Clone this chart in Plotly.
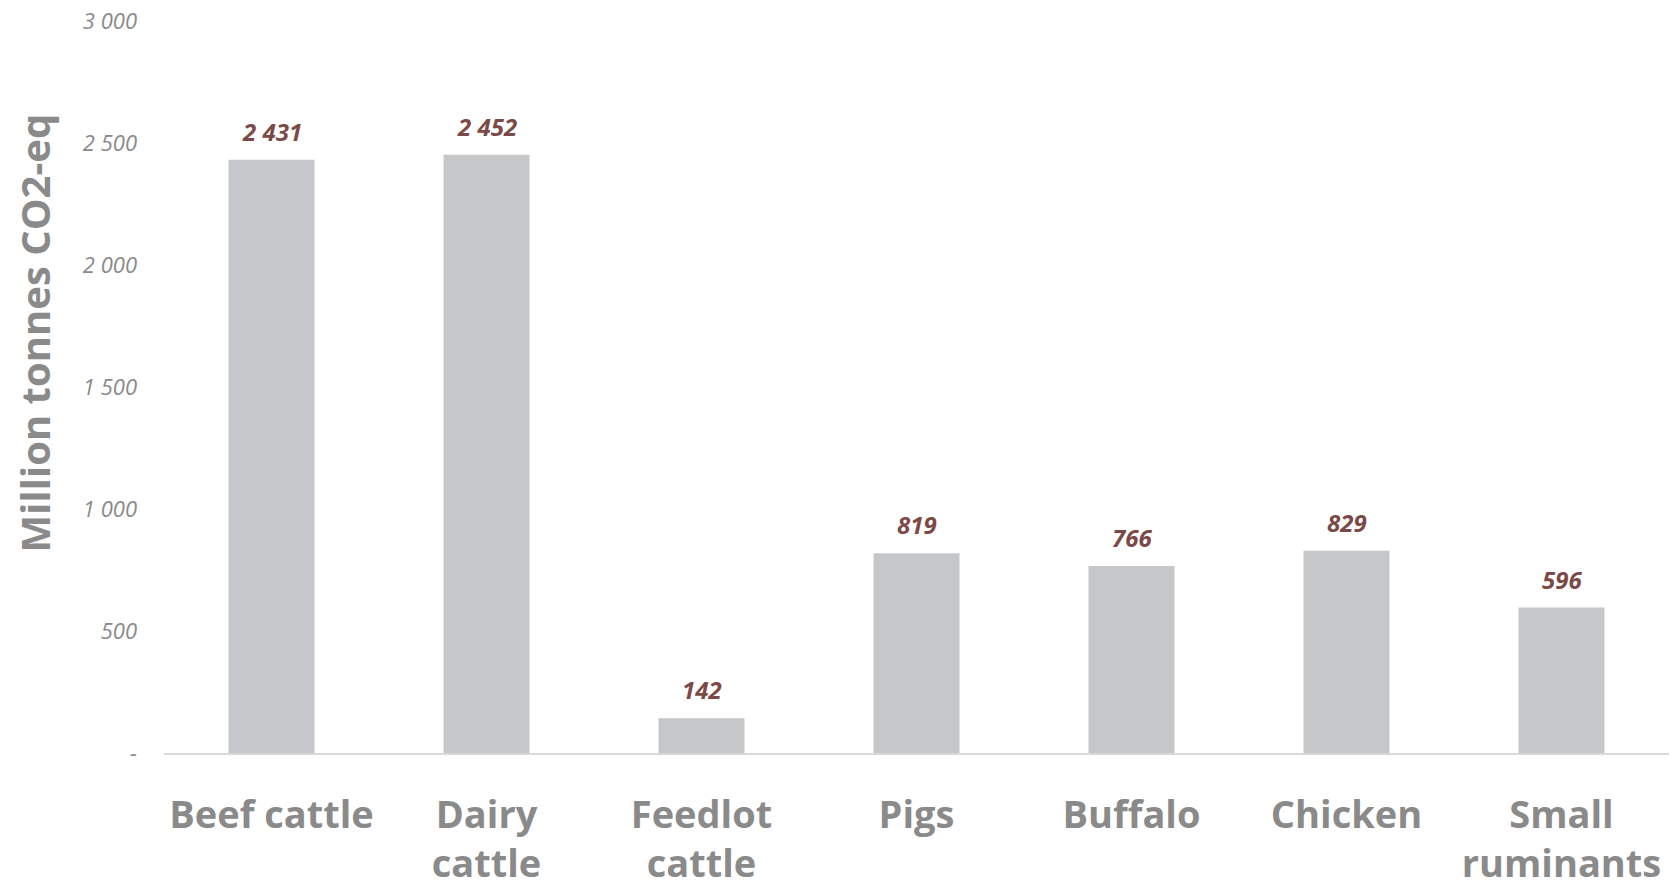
import plotly.graph_objects as go

categories = ["Beef cattle", "Dairy<br>cattle", "Feedlot<br>cattle", "Pigs", "Buffalo", "Chicken", "Small<br>ruminants"]
values = [2431, 2452, 142, 819, 766, 829, 596]
value_labels = ["2 431", "2 452", "142", "819", "766", "829", "596"]
y_tick_vals = [0, 500, 1000, 1500, 2000, 2500, 3000]
y_tick_text = ["-", "500", "1 000", "1 500", "2 000", "2 500", "3 000"]
y_title = "Million tonnes CO2-eq"

FONT = "Open Sans"
GRAY = "#8a8a8a"

fig = go.Figure()
fig.add_trace(go.Bar(
    x=categories, y=values,
    marker=dict(color="#C6C7C9", line=dict(width=0)),
    hoverinfo="x+y",
))

for cat, val, lab in zip(categories, values, value_labels):
    fig.add_annotation(
        x=cat, y=val, text=lab, showarrow=False,
        xanchor="center", yanchor="bottom", yshift=10,
        font=dict(family=FONT, size=24, color="#7B4A47", weight="bold", style="italic"),
    )

fig.update_layout(
    width=1673, height=891,
    margin=dict(l=164, r=4, t=21, b=138, autoexpand=False),
    paper_bgcolor="white", plot_bgcolor="white",
    bargap=0.6, showlegend=False,
)
fig.update_xaxes(
    showline=True, linecolor="#D9D9D9", linewidth=2,
    tickfont=dict(family=FONT, size=38, color=GRAY, weight="bold"),
    ticks="", showgrid=False, ticklabelstandoff=27,
)
fig.update_yaxes(
    range=[0, 3000], tickvals=y_tick_vals, ticktext=y_tick_text,
    tickfont=dict(family=FONT, size=22, color=GRAY, style="italic"),
    showgrid=False, zeroline=False, showline=False, ticks="",
    ticklabelstandoff=26,
)
fig.add_annotation(
    text=y_title, xref="paper", yref="paper", x=-0.086, y=0.574,
    xanchor="center", yanchor="middle", textangle=-90, showarrow=False,
    font=dict(family=FONT, size=40, color=GRAY, weight="bold"),
)

fig.write_html(
    "out.html",
    config={"displayModeBar": False},
    post_script="document.body.style.margin='0';document.body.style.overflow='hidden';",
)
